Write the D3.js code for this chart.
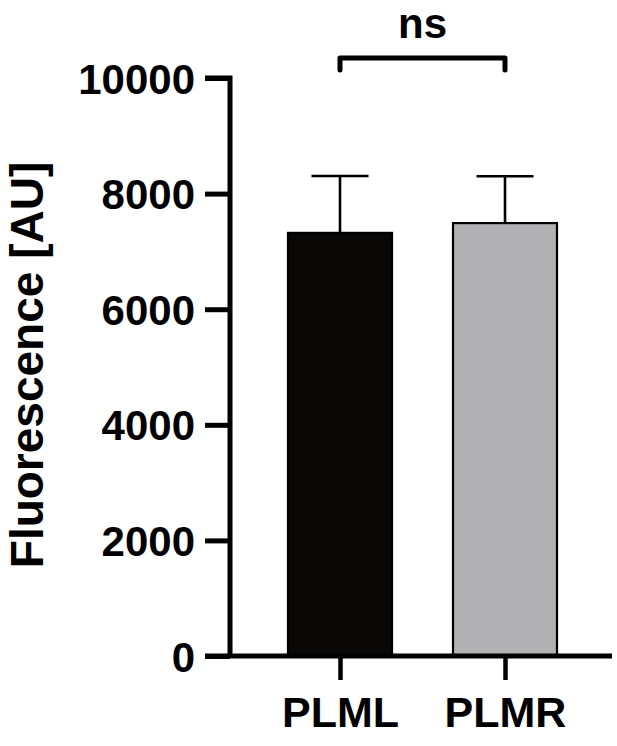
<!DOCTYPE html>
<html><head><meta charset="utf-8">
<script src="https://cdn.jsdelivr.net/npm/d3@7"></script>
<style>html,body{margin:0;padding:0;background:#fff;}svg{display:block;}</style>
</head><body>
<script>
const categories = ["PLML", "PLMR"];
const means = [7320, 7490];
const errors = [985, 810];
const yTicks = [0, 2000, 4000, 6000, 8000, 10000];
const fills = ["#0a0707", "#b1b0b3"];
const sigLabel = "ns";
const yTitle = "Fluorescence [AU]";

const W = 617, H = 746;
const svg = d3.select("body").append("svg").attr("width", W).attr("height", H);
const font = "Arial, 'Liberation Sans', Helvetica, sans-serif";

const y = d3.scaleLinear().domain([0, 10000]).range([656, 78]);
const x = d3.scalePoint().domain(categories).range([340, 505]);
const barW = 104;

// bars
svg.selectAll("rect.bar").data(categories).enter().append("rect")
  .attr("class", "bar")
  .attr("x", d => x(d) - barW / 2)
  .attr("y", (d, i) => y(means[i]))
  .attr("width", barW)
  .attr("height", (d, i) => y(0) - y(means[i]))
  .attr("fill", (d, i) => fills[i])
  .attr("stroke", "#000").attr("stroke-width", 2.2);

// error bars (upper only)
const eg = svg.append("g").attr("stroke", "#000").attr("stroke-width", 2.6);
categories.forEach((c, i) => {
  eg.append("line").attr("x1", x(c)).attr("x2", x(c))
    .attr("y1", y(means[i])).attr("y2", y(means[i] + errors[i]));
  eg.append("line").attr("x1", x(c) - 28.5).attr("x2", x(c) + 28.5)
    .attr("y1", y(means[i] + errors[i])).attr("y2", y(means[i] + errors[i]));
});

// y axis
const yAxis = d3.axisLeft(y).tickValues(yTicks).tickSize(25).tickPadding(10).tickFormat(d3.format("d"));
const yg = svg.append("g").attr("transform", "translate(230,0)").call(yAxis);
yg.select(".domain").attr("stroke-width", 5).attr("d", `M-25,${y(10000)}H0V${y(0)}`);
yg.selectAll(".tick line").attr("stroke-width", 5);
yg.selectAll(".tick text").attr("font-family", font).attr("font-weight", "bold")
  .attr("font-size", 42).attr("fill", "#000").attr("dy", "0.36em");
yg.select(".domain").attr("stroke", "#000");

// x axis
const xAxis = d3.axisBottom(x).tickSize(24).tickPadding(16);
const xg = svg.append("g").attr("transform", `translate(0,${y(0)})`).call(xAxis);
xg.select(".domain").attr("stroke-width", 5).attr("d", "M205,0H612");
xg.selectAll(".tick line").attr("stroke-width", 4.5);
xg.selectAll(".tick text").attr("font-family", font).attr("font-weight", "bold")
  .attr("font-size", 43).attr("fill", "#000").attr("dy", "0.71em");

// y title
svg.append("text")
  .attr("transform", `translate(43,365) rotate(-90)`)
  .attr("text-anchor", "middle")
  .attr("font-family", font).attr("font-weight", "bold").attr("font-size", 46)
  .text(yTitle);

// significance bracket
const bY = 58, bDrop = 12;
svg.append("path")
  .attr("d", `M${x(categories[0])},${bY + bDrop}V${bY}H${x(categories[1])}V${bY + bDrop}`)
  .attr("fill", "none").attr("stroke", "#000").attr("stroke-width", 5)
  .attr("stroke-linecap", "round").attr("stroke-linejoin", "round");
svg.append("text")
  .attr("x", (x(categories[0]) + x(categories[1])) / 2).attr("y", 38)
  .attr("text-anchor", "middle")
  .attr("font-family", font).attr("font-weight", "bold").attr("font-size", 42)
  .text(sigLabel);
</script>
</body></html>
